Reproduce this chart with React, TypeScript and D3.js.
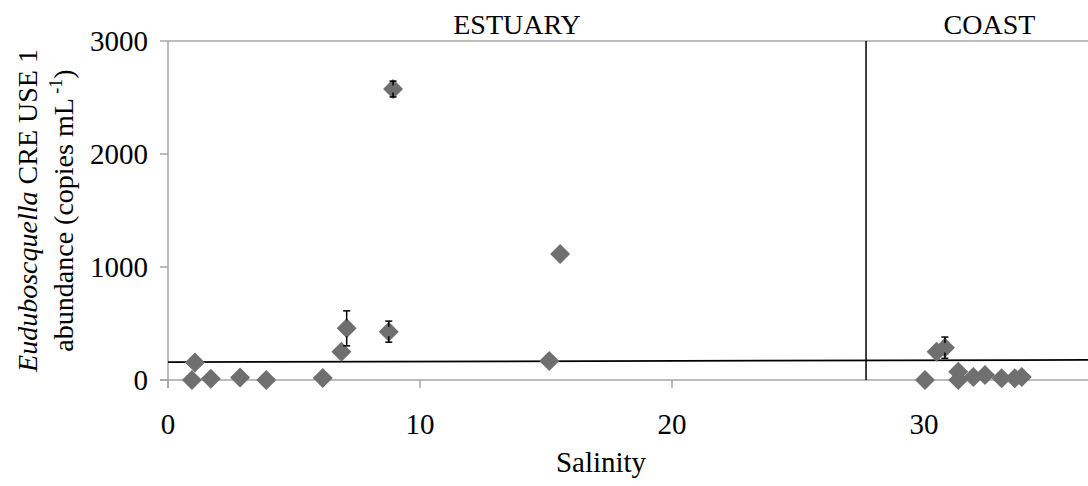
import React from "react";
import { scaleLinear, symbol, symbolSquare } from "d3";

// salinity, abundance, error (copies mL-1)
const salinity = [
  0.95, 1.07, 1.7, 2.86, 3.9, 6.14, 6.88, 7.09, 8.76, 8.93, 15.13, 15.56,
  30.04, 30.5, 30.83, 31.36, 31.36, 31.96, 32.42, 33.08, 33.6, 33.88,
];
const abundance = [
  0, 155, 10, 22, 0, 18, 250, 457, 428, 2575, 168, 1115,
  0, 250, 286, 73, 0, 27, 44, 15, 15, 27,
];
const errors = [
  0, 0, 0, 0, 0, 0, 0, 155, 93, 70, 0, 0,
  0, 0, 94, 0, 0, 0, 0, 0, 0, 0,
];

const xTicks = [0, 10, 20, 30];
const yTicks = [0, 1000, 2000, 3000];

// estuary / coast divide and the reference line
const divide = 27.7;
const refLine = [
  { x: 0, y: 158 },
  { x: 40, y: 180 },
];
const regions = [
  { label: "ESTUARY", x: 13.85 },
  { label: "COAST", x: 32.6 },
];

const W = 1088;
const H = 486;
const font = "Liberation Serif";

const App = () => {
  const x = scaleLinear().domain([0, 40]).range([168, 1176]);
  const y = scaleLinear().domain([0, 3000]).range([380, 41]);
  const diamond = symbol(symbolSquare, 200)() as string;
  const grey = "#a6a6a6";

  return (
    <svg
      width={W}
      height={H}
      style={{ position: "absolute", left: 0, top: 0, background: "#fff", fontFamily: font }}
    >
      {/* top gridline */}
      <line x1={x(0)} x2={W} y1={y(3000)} y2={y(3000)} stroke={grey} strokeWidth={1.5} />
      {/* y axis */}
      <line x1={x(0)} x2={x(0)} y1={y(3000)} y2={y(0) + 8} stroke={grey} strokeWidth={1.5} />
      {yTicks.map((t) => (
        <g key={t}>
          <line x1={x(0) - 8} x2={x(0)} y1={y(t)} y2={y(t)} stroke={grey} strokeWidth={1.5} />
          <text x={x(0) - 20} y={y(t)} dy="0.35em" textAnchor="end" fontSize={29} fill="#000">
            {t}
          </text>
        </g>
      ))}
      {/* x axis */}
      <line x1={x(0) - 8} x2={W} y1={y(0)} y2={y(0)} stroke={grey} strokeWidth={1.5} />
      {xTicks.map((t) => (
        <g key={t}>
          <line x1={x(t)} x2={x(t)} y1={y(0)} y2={y(0) + 8} stroke={grey} strokeWidth={1.5} />
          <text x={x(t)} y={434} textAnchor="middle" fontSize={29} fill="#000">
            {t}
          </text>
        </g>
      ))}

      {/* divider + reference line */}
      <line x1={x(divide)} x2={x(divide)} y1={y(3000)} y2={y(0)} stroke="#000" strokeWidth={1.5} />
      <line
        x1={x(refLine[0].x)}
        y1={y(refLine[0].y)}
        x2={x(refLine[1].x)}
        y2={y(refLine[1].y)}
        stroke="#000"
        strokeWidth={1.8}
      />

      {regions.map((r) => (
        <text key={r.label} x={x(r.x)} y={34} textAnchor="middle" fontSize={28} fill="#000">
          {r.label}
        </text>
      ))}

      {/* points */}
      {salinity.map((s, i) => (
        <path
          key={"p" + i}
          d={diamond}
          transform={`translate(${x(s)},${y(abundance[i])}) rotate(45)`}
          fill="#6f6f6f"
        />
      ))}
      {salinity.map((s, i) =>
        errors[i] > 0 ? (
          <g key={"e" + i} stroke="#000" strokeWidth={1.5}>
            <line x1={x(s)} x2={x(s)} y1={y(abundance[i] + errors[i])} y2={y(abundance[i] + errors[i] * 0.45)} />
            <line x1={x(s)} x2={x(s)} y1={y(abundance[i] - errors[i])} y2={y(abundance[i] - errors[i] * 0.45)} />
            <line x1={x(s) - 3.5} x2={x(s) + 3.5} y1={y(abundance[i] + errors[i])} y2={y(abundance[i] + errors[i])} />
            <line x1={x(s) - 3.5} x2={x(s) + 3.5} y1={y(abundance[i] - errors[i])} y2={y(abundance[i] - errors[i])} />
          </g>
        ) : null
      )}

      {/* axis titles */}
      <text x={601} y={472} textAnchor="middle" fontSize={29} fill="#000">
        Salinity
      </text>
      <g transform={`translate(0,${(y(0) + y(3000)) / 2}) rotate(-90)`}>
        <text x={0} y={37} textAnchor="middle" fontSize={28} fill="#000">
          <tspan fontStyle="italic">Euduboscquella</tspan> CRE USE 1
        </text>
        <text x={0} y={73} textAnchor="middle" fontSize={28} fill="#000">
          abundance (copies mL
          <tspan fontSize={18} dy={-11}> -1</tspan>
          <tspan dy={11}>)</tspan>
        </text>
      </g>
    </svg>
  );
};

export default App;
